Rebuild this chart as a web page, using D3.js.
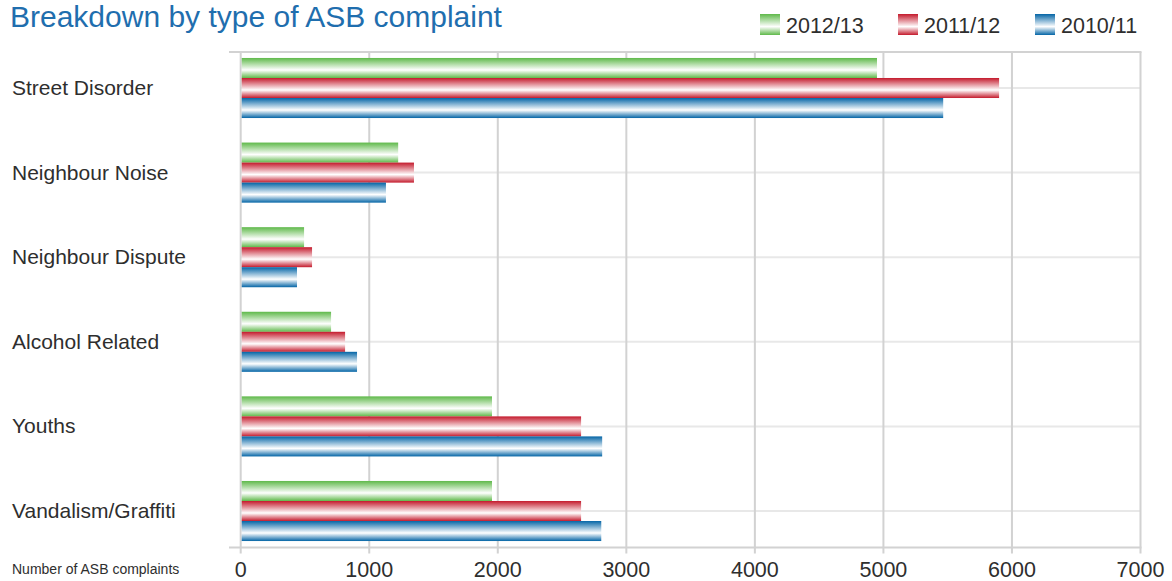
<!DOCTYPE html>
<html>
<head>
<meta charset="utf-8">
<script src="https://cdn.jsdelivr.net/npm/d3@7/dist/d3.min.js"></script>
<style>
  html, body { margin: 0; padding: 0; background: #ffffff; }
  svg { display: block; font-family: "Liberation Sans", Arial, sans-serif; }
</style>
</head>
<body>
<svg id="chart" width="1172" height="581"></svg>
<script>
const categories = ["Street Disorder", "Neighbour Noise", "Neighbour Dispute", "Alcohol Related", "Youths", "Vandalism/Graffiti"];
const seriesNames = ["2012/13", "2011/12", "2010/11"];
const values2012 = [4950, 1225, 493, 703, 1955, 1955];
const values2011 = [5900, 1348, 555, 812, 2648, 2648];
const values2010 = [5465, 1130, 438, 905, 2812, 2805];
const xTicks = [0, 1000, 2000, 3000, 4000, 5000, 6000, 7000];
const titleText = "Breakdown by type of ASB complaint";
const axisTitle = "Number of ASB complaints";

const seriesValues = [values2012, values2011, values2010];
const seriesColors = ["#5fb94a", "#c41a2c", "#0465a6"];

const svg = d3.select("#chart");
const defs = svg.append("defs");
seriesColors.forEach((c, i) => {
  const g = defs.append("linearGradient").attr("id", "grad" + i)
    .attr("x1", 0).attr("y1", 0).attr("x2", 0).attr("y2", 1);
  g.append("stop").attr("offset", "0%").attr("stop-color", c);
  g.append("stop").attr("offset", "60%").attr("stop-color", "#ffffff");
  g.append("stop").attr("offset", "100%").attr("stop-color", c);
});

const x = d3.scaleLinear().domain([0, 7000]).range([240.7, 1140.5]);
const y = d3.scaleBand().domain(categories).range([45.7, 553.3]).paddingInner(0.29).paddingOuter(0.145);
const ySub = d3.scaleBand().domain(seriesNames).range([0, y.bandwidth()]);

const plotTop = 52, axisY = 547.5, lineLeft = 229;

// horizontal light gridlines at category centres
svg.append("g").selectAll("line").data(categories).join("line")
  .attr("x1", x(0)).attr("x2", x(7000))
  .attr("y1", d => y(d) + y.bandwidth() / 2).attr("y2", d => y(d) + y.bandwidth() / 2)
  .attr("stroke", "#e8e8e8").attr("stroke-width", 2);

// vertical gridlines (extend below axis as ticks)
svg.append("g").selectAll("line").data(xTicks).join("line")
  .attr("x1", d => x(d)).attr("x2", d => x(d))
  .attr("y1", plotTop).attr("y2", axisY + 6)
  .attr("stroke", "#d2d2d2").attr("stroke-width", 2);

// top frame and bottom axis lines
svg.append("line").attr("x1", lineLeft).attr("x2", x(7000) + 1).attr("y1", plotTop).attr("y2", plotTop)
  .attr("stroke", "#d2d2d2").attr("stroke-width", 2);
svg.append("line").attr("x1", lineLeft).attr("x2", x(7000) + 1).attr("y1", axisY).attr("y2", axisY)
  .attr("stroke", "#d2d2d2").attr("stroke-width", 2);

// bars
const groups = svg.append("g").selectAll("g").data(categories).join("g")
  .attr("transform", d => `translate(0,${y(d)})`);
groups.selectAll("rect").data((d, ci) => seriesNames.map((s, si) => ({ s, si, v: seriesValues[si][ci] })))
  .join("rect")
  .attr("x", x(0) + 1)
  .attr("y", d => ySub(d.s))
  .attr("width", d => x(d.v) - x(0) - 1)
  .attr("height", ySub.bandwidth())
  .attr("fill", d => `url(#grad${d.si})`);

// category labels
svg.append("g").selectAll("text").data(categories).join("text")
  .attr("x", 12).attr("y", d => y(d) + y.bandwidth() / 2 + 7)
  .attr("font-size", 21).attr("fill", "#2e2e2e")
  .text(d => d);

// x tick labels
svg.append("g").selectAll("text").data(xTicks).join("text")
  .attr("x", d => x(d)).attr("y", 577)
  .attr("text-anchor", "middle")
  .attr("font-size", 21.5).attr("fill", "#2e2e2e")
  .text(d => d);

svg.append("text").attr("x", 12).attr("y", 574)
  .attr("font-size", 14).attr("fill", "#2e2e2e").text(axisTitle);

// title
svg.append("text").attr("x", 10).attr("y", 27)
  .attr("font-size", 30).attr("fill", "#1f6eae").text(titleText);

// legend
const legendX = [760, 898, 1035];
const legend = svg.append("g").selectAll("g").data(seriesNames).join("g")
  .attr("transform", (d, i) => `translate(${legendX[i]},14)`);
legend.append("rect").attr("width", 20).attr("height", 21)
  .attr("fill", (d, i) => `url(#grad${i})`);
legend.append("text").attr("x", 26).attr("y", 18.5)
  .attr("font-size", 21.5).attr("fill", "#2e2e2e").text(d => d);
</script>
</body>
</html>
